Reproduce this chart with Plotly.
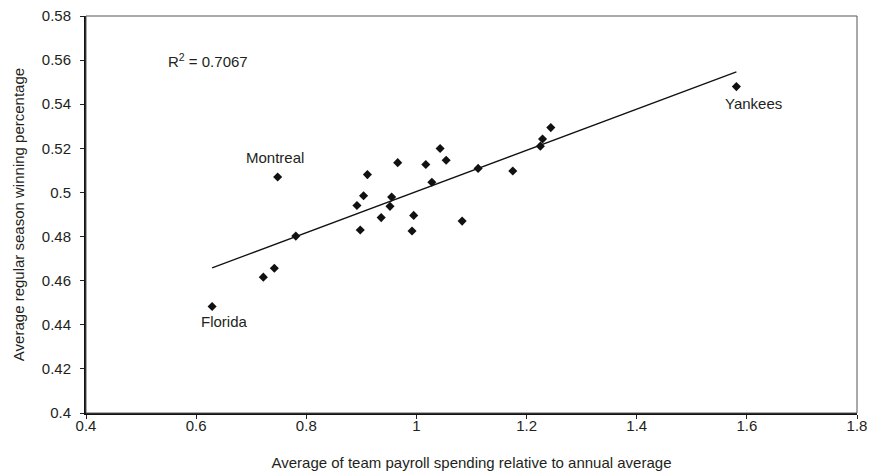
import numpy as np
import plotly.graph_objects as go

# Team averages: payroll relative to annual average vs. regular season win pct
payroll = [0.629, 0.722, 0.742, 0.748, 0.781, 0.892, 0.898, 0.904, 0.911, 0.936,
           0.952, 0.955, 0.966, 0.992, 0.995, 1.017, 1.028, 1.043, 1.054, 1.083,
           1.112, 1.175, 1.225, 1.229, 1.244, 1.581]
win_pct = [0.4483, 0.4616, 0.4656, 0.5070, 0.4802, 0.4941, 0.4830, 0.4985, 0.5081, 0.4886,
           0.4937, 0.4979, 0.5135, 0.4825, 0.4896, 0.5127, 0.5046, 0.5199, 0.5146, 0.4870,
           0.5109, 0.5097, 0.5210, 0.5242, 0.5294, 0.5480]

team_names = ["Montreal", "Florida", "Yankees"]
name_x = [0.7436, 0.651, 1.6127]
name_y = [0.5159, 0.4417, 0.5405]

r_squared = 0.7067
x_ticks = [0.4, 0.6, 0.8, 1.0, 1.2, 1.4, 1.6, 1.8]
x_tick_text = ["0.4", "0.6", "0.8", "1", "1.2", "1.4", "1.6", "1.8"]
y_ticks = [0.4, 0.42, 0.44, 0.46, 0.48, 0.5, 0.52, 0.54, 0.56, 0.58]
y_tick_text = ["0.4", "0.42", "0.44", "0.46", "0.48", "0.5", "0.52", "0.54", "0.56", "0.58"]

# Linear trend fitted to the points
slope, intercept = np.polyfit(payroll, win_pct, 1)
fit_x = [min(payroll), max(payroll)]
fit_y = [slope * v + intercept for v in fit_x]

FONT = "Liberation Sans, Arial, sans-serif"
TEXT = "#231f20"

fig = go.Figure()
fig.add_trace(go.Scatter(x=fit_x, y=fit_y, mode="lines",
                         line=dict(color="#111111", width=1.3), hoverinfo="skip"))
fig.add_trace(go.Scatter(x=payroll, y=win_pct, mode="markers",
                         marker=dict(symbol="diamond", size=7, color="#111111")))

for name, xv, yv in zip(team_names, name_x, name_y):
    fig.add_annotation(x=xv, y=yv, text=name, showarrow=False,
                       font=dict(family=FONT, size=15, color=TEXT))

fig.add_annotation(x=0.5455, y=0.56, xanchor="left", text=f"R<sup>2</sup> = {r_squared}",
                   showarrow=False, font=dict(family=FONT, size=15, color=TEXT))

# Thin frame on top/right
fig.add_shape(type="rect", xref="paper", yref="paper", x0=0, y0=0, x1=1, y1=1,
              line=dict(color="#555555", width=1))

axis_common = dict(showgrid=False, zeroline=False, ticks="outside", ticklen=4,
                   tickcolor="#222", tickfont=dict(family=FONT, size=15, color=TEXT),
                   showline=True, linecolor="#111", linewidth=2, automargin=False)

fig.update_xaxes(range=[0.4, 1.8], tickvals=x_ticks, ticktext=x_tick_text,
                 ticklabelstandoff=-6,
                 title=dict(text="Average of team payroll spending relative to annual average",
                            font=dict(family=FONT, size=15, color=TEXT), standoff=24),
                 **axis_common)
fig.update_yaxes(range=[0.4, 0.58], tickvals=y_ticks, ticktext=y_tick_text,
                 ticklabelstandoff=6,
                 title=dict(text="Average regular season winning percentage",
                            font=dict(family=FONT, size=15, color=TEXT), standoff=14),
                 **axis_common)

fig.update_layout(width=874, height=474, showlegend=False,
                  margin=dict(l=86, r=17, t=16, b=61),
                  plot_bgcolor="white", paper_bgcolor="white")

fig.write_html("out.html")
